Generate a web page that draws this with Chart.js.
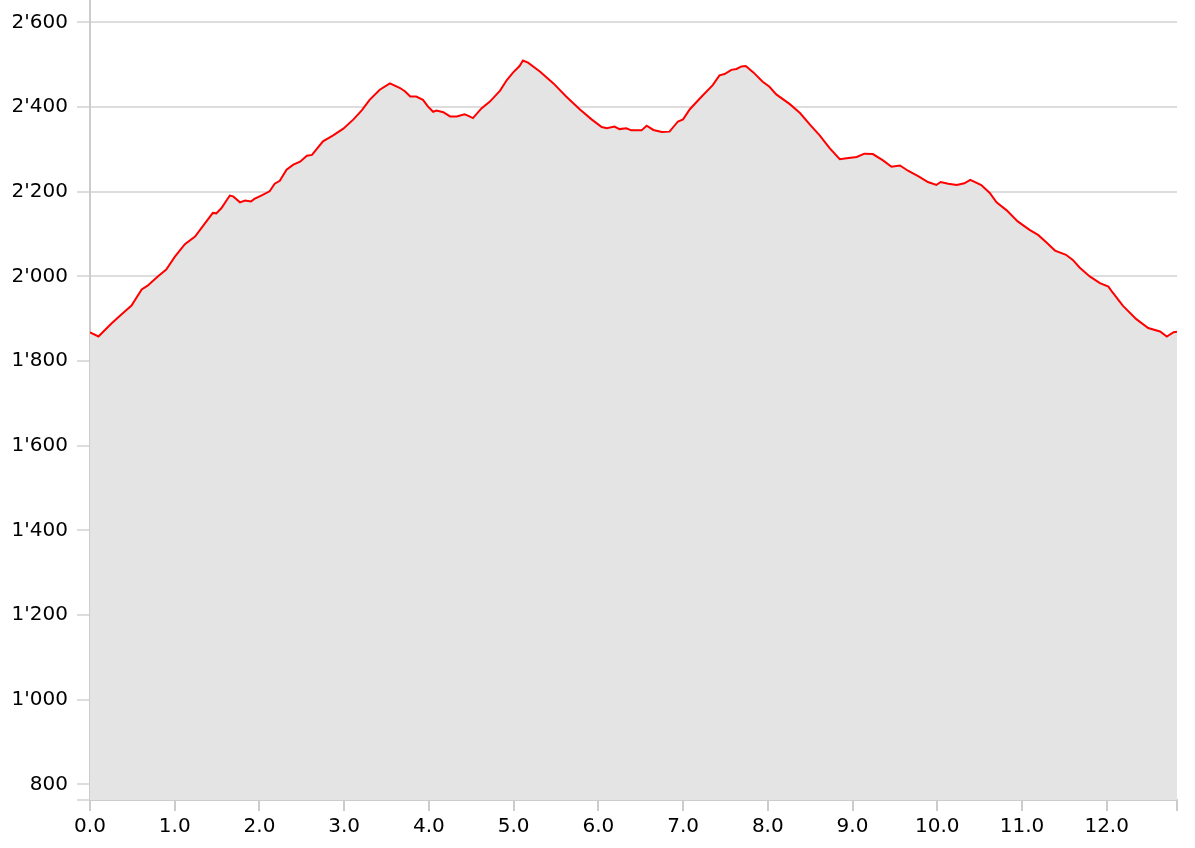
<!DOCTYPE html>
<html>
<head>
<meta charset="utf-8">
<script src="https://cdn.jsdelivr.net/npm/chart.js@4/dist/chart.umd.min.js"></script>
<style>
  html, body { margin: 0; padding: 0; background: #fff; }
  #wrap { width: 1195px; height: 848px; }
</style>
</head>
<body>
<div id="wrap"><canvas id="myChart" width="1195" height="848"></canvas></div>
<script>
// distance along the route (km) and elevation (m)
var distanceKm = [0.00, 0.10, 0.25, 0.37, 0.49, 0.61, 0.68, 0.80, 0.90, 1.00,
  1.12, 1.24, 1.33, 1.45, 1.49, 1.55, 1.65, 1.69, 1.77, 1.83,
  1.90, 1.94, 2.02, 2.12, 2.18, 2.24, 2.32, 2.40, 2.48, 2.56,
  2.62, 2.75, 2.87, 2.99, 3.11, 3.21, 3.30, 3.42, 3.54, 3.66,
  3.72, 3.78, 3.85, 3.93, 3.99, 4.05, 4.09, 4.17, 4.25, 4.33,
  4.42, 4.46, 4.52, 4.62, 4.72, 4.84, 4.92, 4.99, 5.07, 5.11,
  5.17, 5.31, 5.47, 5.62, 5.78, 5.92, 6.04, 6.10, 6.19, 6.25,
  6.33, 6.39, 6.51, 6.57, 6.65, 6.75, 6.84, 6.94, 7.00, 7.08,
  7.22, 7.35, 7.43, 7.49, 7.57, 7.63, 7.69, 7.74, 7.83, 7.94,
  8.02, 8.10, 8.26, 8.38, 8.50, 8.61, 8.73, 8.85, 8.93, 9.05,
  9.14, 9.24, 9.36, 9.46, 9.56, 9.66, 9.79, 9.89, 9.99, 10.04,
  10.13, 10.23, 10.32, 10.39, 10.52, 10.62, 10.70, 10.82, 10.95, 11.09,
  11.19, 11.29, 11.39, 11.52, 11.60, 11.68, 11.80, 11.92, 12.02, 12.07,
  12.19, 12.35, 12.49, 12.63, 12.71, 12.79, 12.83];
var elevation = [1868, 1858, 1888, 1910, 1931, 1969, 1978, 2000, 2016, 2046,
  2076, 2094, 2118, 2150, 2149, 2161, 2191, 2189, 2175, 2179,
  2177, 2183, 2191, 2201, 2219, 2226, 2252, 2264, 2271, 2285,
  2287, 2319, 2333, 2349, 2371, 2393, 2417, 2441, 2456, 2445,
  2437, 2425, 2425, 2417, 2401, 2389, 2392, 2388, 2378, 2378,
  2383, 2380, 2374, 2397, 2413, 2439, 2464, 2481, 2497, 2510,
  2505, 2484, 2456, 2425, 2395, 2371, 2353, 2350, 2354, 2348,
  2350, 2345, 2345, 2356, 2346, 2341, 2342, 2366, 2371, 2395,
  2425, 2452, 2475, 2478, 2488, 2490, 2496, 2497, 2482, 2460,
  2448, 2430, 2407, 2386, 2358, 2334, 2303, 2277, 2279, 2282,
  2290, 2289, 2274, 2259, 2262, 2249, 2235, 2223, 2216, 2223,
  2219, 2216, 2220, 2228, 2216, 2197, 2175, 2156, 2130, 2110,
  2098, 2080, 2061, 2051, 2039, 2021, 2000, 1984, 1976, 1962,
  1931, 1899, 1878, 1870, 1858, 1868, 1869];

var xTicks = [0, 1, 2, 3, 4, 5, 6, 7, 8, 9, 10, 11, 12];
var yTicks = [800, 1000, 1200, 1400, 1600, 1800, 2000, 2200, 2400, 2600];
var xMax = 12.83;
var yMin = 763;
var yMax = 2653;

var points = [];
for (var i = 0; i < distanceKm.length; i++) {
  points.push({ x: distanceKm[i], y: elevation[i] });
}

function swissNumber(v) {
  return String(v).replace(/\B(?=(\d{3})+(?!\d))/g, "'");
}

var ctx = document.getElementById('myChart').getContext('2d');
var myChart = new Chart(ctx, {
  type: 'line',
  data: {
    datasets: [{
      data: points,
      borderColor: '#ff0000',
      borderWidth: 2,
      backgroundColor: '#e4e4e4',
      fill: 'start',
      pointRadius: 0,
      tension: 0
    }]
  },
  options: {
    responsive: false,
    animation: false,
    layout: { padding: { left: 0, right: 18, top: 0, bottom: 0 } },
    plugins: { legend: { display: false }, tooltip: { enabled: false } },
    scales: {
      x: {
        type: 'linear',
        min: 0,
        max: xMax,
        afterBuildTicks: function (scale) {
          // tick at every km plus an unlabelled one at the end of the route
          scale.ticks = xTicks.concat([xMax]).map(function (v) { return { value: v }; });
        },
        afterFit: function (scale) {
          scale.height = 48;
          scale.paddingLeft = 0;
          scale.paddingRight = 0;
        },
        border: { color: '#cccccc', width: 2 },
        grid: { drawOnChartArea: false, drawTicks: true, tickLength: 11, color: '#cccccc', lineWidth: 2 },
        ticks: {
          padding: 4,
          maxRotation: 0,
          autoSkip: false,
          color: '#000000',
          font: { family: 'DejaVu Sans', size: 20 },
          callback: function (value) {
            return xTicks.indexOf(value) < 0 ? '' : value.toFixed(1);
          }
        }
      },
      y: {
        min: yMin,
        max: yMax,
        afterBuildTicks: function (scale) {
          scale.ticks = [yMin].concat(yTicks).map(function (v) { return { value: v }; });
        },
        afterFit: function (scale) {
          scale.width = 90;
          scale.paddingTop = 0;
          scale.paddingBottom = 0;
        },
        border: { color: '#cccccc', width: 2 },
        grid: { drawTicks: true, tickLength: 13, lineWidth: 2, color: '#dddddd' },
        ticks: {
          padding: 9,
          autoSkip: false,
          color: '#000000',
          font: { family: 'DejaVu Sans', size: 20 },
          callback: function (value) {
            return yTicks.indexOf(value) < 0 ? '' : swissNumber(value);
          }
        }
      }
    }
  }
});
</script>
</body>
</html>
